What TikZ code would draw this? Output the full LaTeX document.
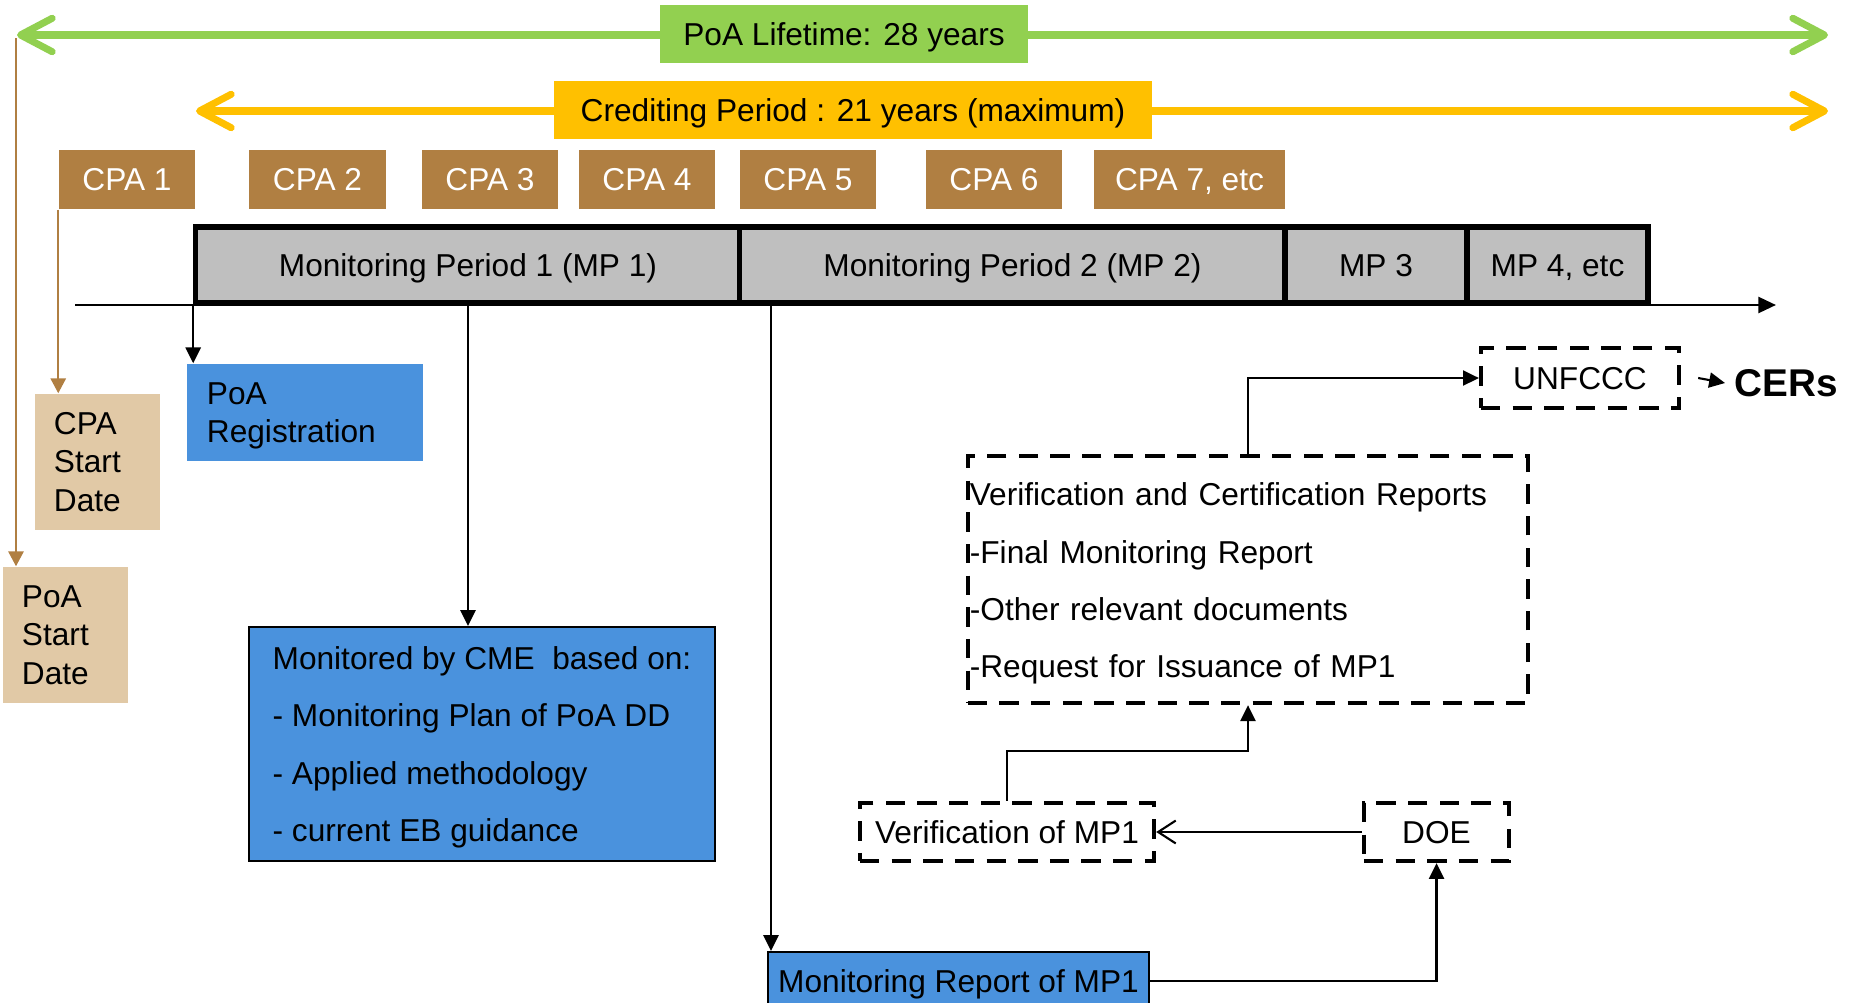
\documentclass[tikz,border=0pt]{standalone}
\usepackage{fontspec}
\setmainfont{Liberation Sans}
\usetikzlibrary{arrows.meta}
\definecolor{PoaGreen}{HTML}{92D050}
\definecolor{PoaGold}{HTML}{FFC000}
\definecolor{CpaBrown}{HTML}{B07F42}
\definecolor{CpaTan}{HTML}{E1C9A6}
\definecolor{RegBlue}{HTML}{4A92DD}
\definecolor{MpGray}{HTML}{BFBFBF}

\begin{document}
\begin{tikzpicture}[x=0.01cm, y=-0.01cm,
    every node/.style={font=\fontsize{9}{11}\selectfont},
    oneline/.style={text height=6.5pt, text depth=0pt},
    cpa/.style={oneline, fill=CpaBrown, text=white, minimum height=0.59cm, inner sep=0pt},
    mp/.style={oneline, draw, line width=1.5pt, fill=MpGray, minimum height=0.76cm, inner sep=0pt},
    startbox/.style={fill=CpaTan, minimum height=1.36cm, text width=0.87cm, inner xsep=0.19cm, align=left},
    dashbox/.style={draw, line width=1.2pt, dash pattern=on 5.5pt off 3.5pt, inner sep=0pt},
    span/.style={line width=2pt, {Straight Barb[length=9pt,width=9.5pt,round]}-{Straight Barb[length=9pt,width=9.5pt,round]}},
    link/.style={line width=0.6pt, -{Triangle[length=4.5pt,width=4.3pt]}},
    tanlink/.style={CpaBrown, line width=0.6pt, -{Triangle[length=4.2pt,width=4.3pt]}}]
    \useasboundingbox (0,0) rectangle (1851,1003);

    % Lifetime and crediting spans
    \coordinate (lifeL) at (17,35);
    \coordinate (lifeR) at (1828,35);
    \coordinate (credL) at (196,111);
    \coordinate (credR) at (1828,111);
    \draw[span, PoaGreen] (lifeL) -- (lifeR);
    \draw[span, PoaGold] (credL) -- (credR);
    \node[oneline, fill=PoaGreen, minimum width=3.68cm, minimum height=0.58cm, inner sep=0pt] (life) at (844,34) {PoA Lifetime: 28 years};
    \node[oneline, fill=PoaGold, minimum width=5.98cm, minimum height=0.58cm, inner sep=0pt] (cred) at (853,110) {Crediting Period : 21 years (maximum)};

    % CPAs
    \node[cpa, minimum width=1.36cm] (cpa1) at (127,179.5) {CPA 1};
    \node[cpa, minimum width=1.37cm] (cpa2) at (317.5,179.5) {CPA 2};
    \node[cpa, minimum width=1.36cm] (cpa3) at (490,179.5) {CPA 3};
    \node[cpa, minimum width=1.36cm] (cpa4) at (647,179.5) {CPA 4};
    \node[cpa, minimum width=1.36cm] (cpa5) at (808,179.5) {CPA 5};
    \node[cpa, minimum width=1.36cm] (cpa6) at (994,179.5) {CPA 6};
    \node[cpa, minimum width=1.91cm] (cpa7) at (1189.5,179.5) {CPA 7, etc};

    % Time axis and monitoring periods
    \coordinate (axisL) at (75,305);
    \coordinate (axisR) at (1776,305);
    \draw[line width=0.8pt, -{Triangle[length=5pt,width=4.5pt]}] (axisL) -- (axisR);
    \node[mp, minimum width=5.44cm] (mp1) at (468,265) {Monitoring Period 1 (MP 1)};
    \node[mp, minimum width=5.45cm] (mp2) at (1012.5,265) {Monitoring Period 2 (MP 2)};
    \node[mp, minimum width=1.82cm] (mp3) at (1376,265) {MP 3};
    \node[mp, minimum width=1.81cm] (mp4) at (1557.5,265) {MP 4, etc};

    % Start dates
    \coordinate (poaTop) at (16,38);
    \node[startbox] (poaStart) at (65.5,635) {PoA\\Start\\Date};
    \node[startbox] (cpaStart) at (97.5,462) {CPA\\Start\\Date};
    \draw[tanlink] (poaTop) -- (poaTop |- poaStart.north);
    \draw[tanlink] (cpa1.south west) -- (cpa1.south west |- cpaStart.north);

    % Registration and monitoring
    \node[fill=RegBlue, minimum height=0.97cm, text width=1.96cm, inner xsep=0.2cm, align=left, text depth=10.9pt] (reg) at (305,412.5) {PoA\\Registration};
    \node[draw, line width=0.6pt, fill=RegBlue, minimum width=4.66cm, minimum height=2.34cm, inner xsep=0.21cm, align=left, text depth=0pt,
          font=\fontsize{9}{16.3}\selectfont] (cme) at (482,744)
          {Monitored by CME~~based on:\\- Monitoring Plan of PoA DD\\- Applied methodology\\- current EB guidance};
    \node[oneline, draw, line width=0.6pt, fill=RegBlue, minimum width=3.81cm, minimum height=0.58cm, inner sep=0pt] (mrep) at (958.5,981) {Monitoring Report of MP1};
    \coordinate (mrTap) at (771,305);
    \draw[link, line width=0.7pt] (mp1.south west) -- (mp1.south west |- reg.north);
    \draw[link, line width=0.7pt] (mp1.south) -- (mp1.south |- cme.north);
    \draw[link] (mrTap) -- (mrTap |- mrep.north);

    % Verification and issuance
    \node[dashbox, oneline, minimum width=1.45cm, minimum height=0.58cm] (doe) at (1436.5,832) {DOE};
    \node[dashbox, oneline, minimum width=2.94cm, minimum height=0.58cm] (ver) at (1007,832) {Verification of MP1};
    \node[dashbox, minimum height=2.47cm, text width=5.56cm, inner xsep=0.02cm, align=left, text height=6.6pt, text depth=48.5pt,
          font=\fontsize{9}{16.3}\selectfont] (docs) at (1248,579.5)
          {Verification and Certification Reports\\-Final Monitoring Report\\-Other relevant documents\\-Request for Issuance of MP1};
    \node[dashbox, oneline, minimum width=1.98cm, minimum height=0.60cm] (unf) at (1580,378) {UNFCCC};
    \node[font=\bfseries\fontsize{11}{13}\selectfont, inner sep=0.09cm, anchor=west] (cers) at (1725,383) {CERs};

    \draw[link] (mrep.east) -| (doe.south);
    \draw[line width=0.6pt, -{Straight Barb[length=5pt,width=6.5pt]}] (doe.west) -- (ver.east);
    \draw[link] (ver.north) -- ++(0,-50) -| (docs.south);
    \draw[link] (docs.north) |- (unf.west);
    \draw[link] ([xshift=0.17cm]unf.east) -- (cers.west);
\end{tikzpicture}
\end{document}
